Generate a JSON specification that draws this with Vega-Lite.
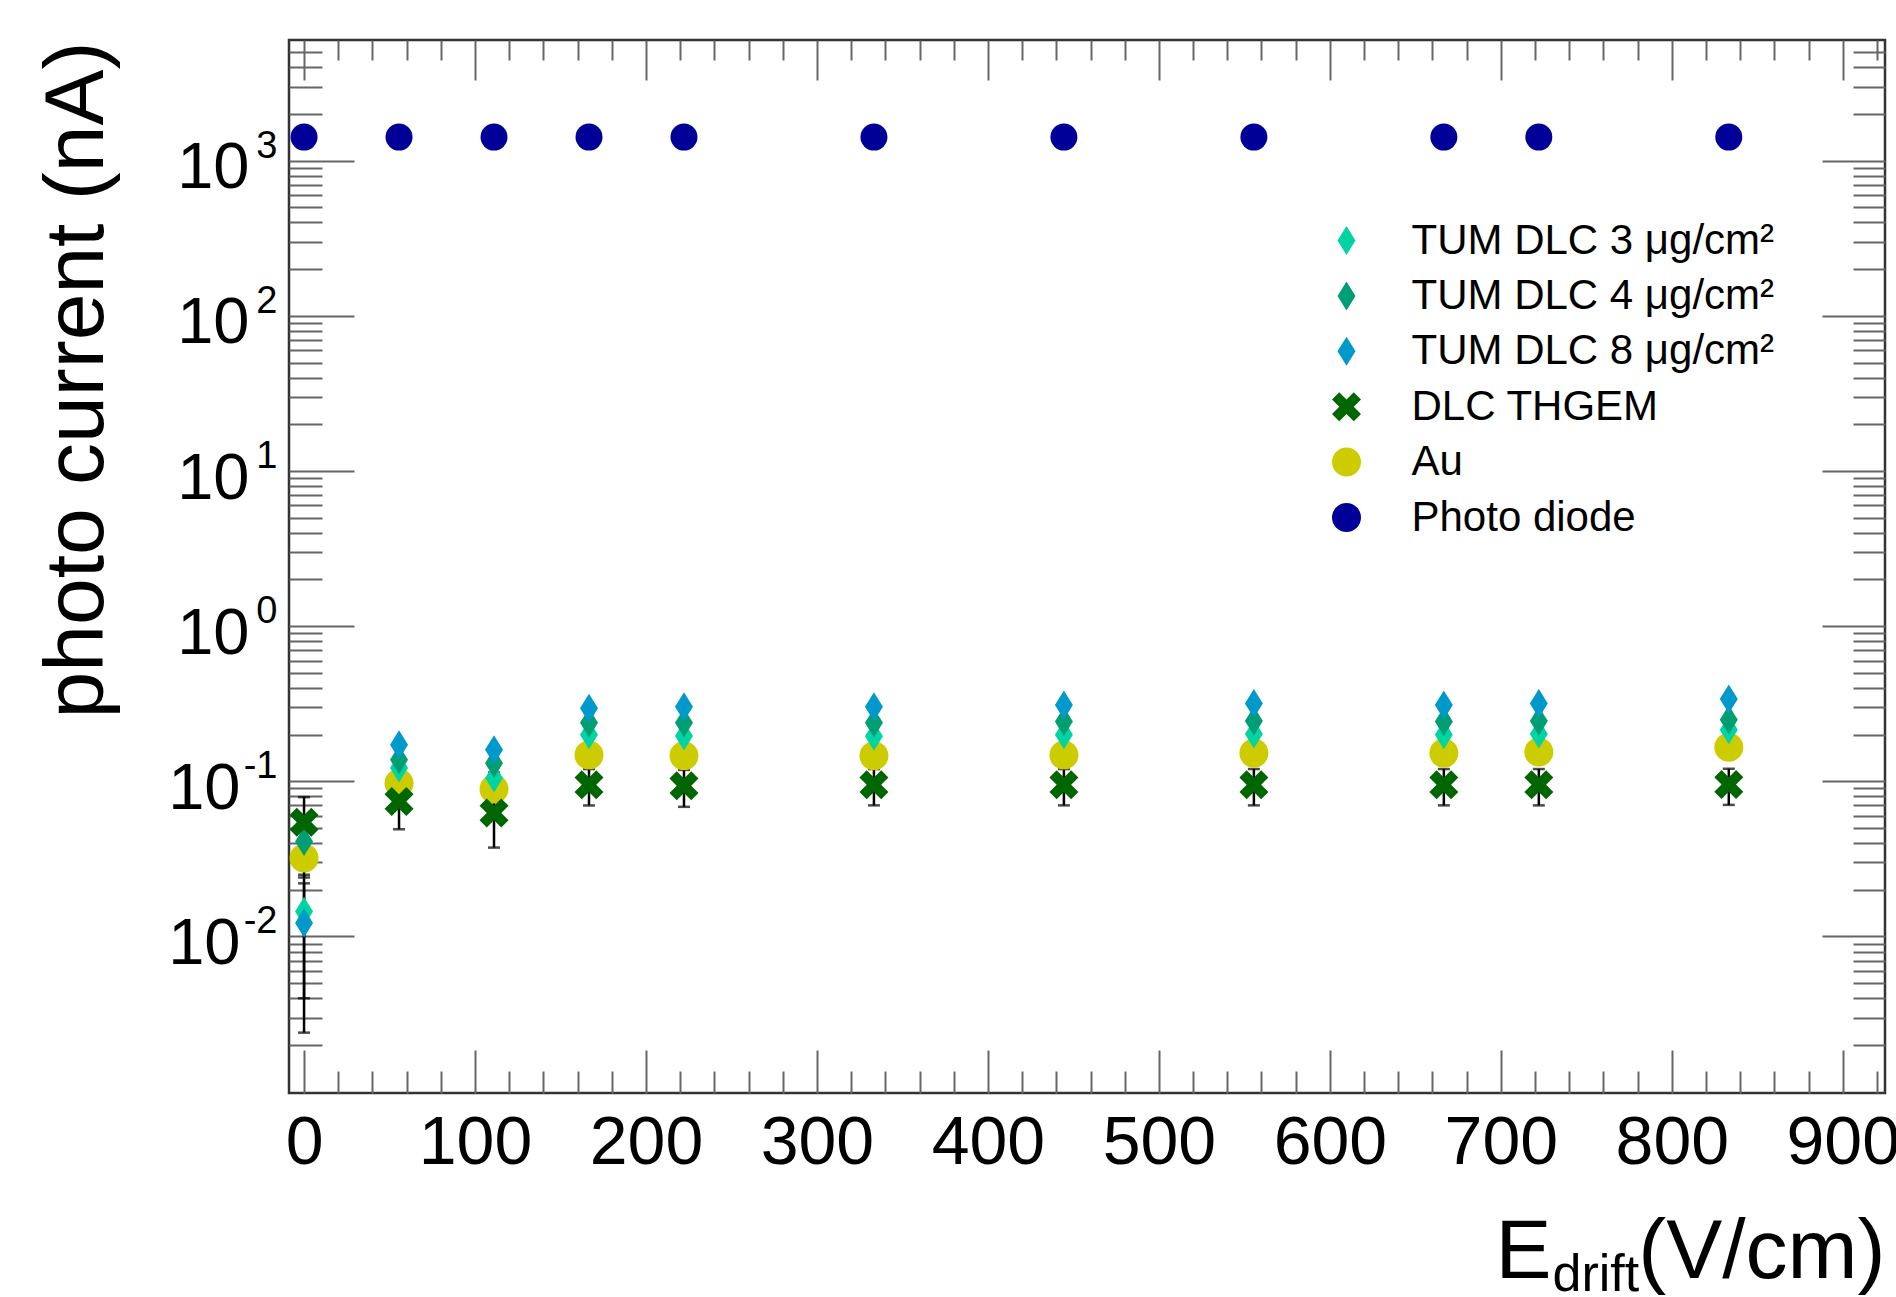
{
  "$schema": "https://vega.github.io/schema/vega-lite/v6.json",
  "width": 1596,
  "height": 1053,
  "autosize": "none",
  "padding": {"left": 289, "top": 40, "right": 11, "bottom": 204},
  "background": "white",
  "config": {
    "view": {"stroke": "#333333", "strokeWidth": 2.5},
    "font": "Liberation Sans",
    "axis": {"domain": false, "grid": false, "labelFont": "Liberation Sans", "titleFont": "Liberation Sans", "labelColor": "black", "titleColor": "black", "tickColor": "#666666", "tickWidth": 2, "labelFlush": false, "labelOverlap": false, "labelBound": false, "titleFontWeight": "normal", "titlePadding": 0}
  },
  "datasets": {
    "pts": [
      {"s": "Au", "x": 0, "y": 0.032, "lo": 0.024, "hi": 0.040},
      {"s": "Au", "x": 55.56, "y": 0.0973, "lo": 0.0723, "hi": 0.1223},
      {"s": "Au", "x": 111.11, "y": 0.0891, "lo": 0.0641, "hi": 0.1141},
      {"s": "Au", "x": 166.67, "y": 0.148},
      {"s": "Au", "x": 222.22, "y": 0.146},
      {"s": "Au", "x": 333.33, "y": 0.146},
      {"s": "Au", "x": 444.44, "y": 0.148},
      {"s": "Au", "x": 555.56, "y": 0.152},
      {"s": "Au", "x": 666.67, "y": 0.152},
      {"s": "Au", "x": 722.22, "y": 0.1545},
      {"s": "Au", "x": 833.33, "y": 0.166},
      {"s": "TUM DLC 3 μg/cm²", "x": 0, "y": 0.0145, "lo": 0.004, "hi": 0.025},
      {"s": "TUM DLC 3 μg/cm²", "x": 55.56, "y": 0.122},
      {"s": "TUM DLC 3 μg/cm²", "x": 111.11, "y": 0.105},
      {"s": "TUM DLC 3 μg/cm²", "x": 166.67, "y": 0.1995},
      {"s": "TUM DLC 3 μg/cm²", "x": 222.22, "y": 0.196},
      {"s": "TUM DLC 3 μg/cm²", "x": 333.33, "y": 0.195},
      {"s": "TUM DLC 3 μg/cm²", "x": 444.44, "y": 0.1995},
      {"s": "TUM DLC 3 μg/cm²", "x": 555.56, "y": 0.202},
      {"s": "TUM DLC 3 μg/cm²", "x": 666.67, "y": 0.2},
      {"s": "TUM DLC 3 μg/cm²", "x": 722.22, "y": 0.202},
      {"s": "TUM DLC 3 μg/cm²", "x": 833.33, "y": 0.215},
      {"s": "TUM DLC 4 μg/cm²", "x": 0, "y": 0.041, "lo": 0.028, "hi": 0.054},
      {"s": "TUM DLC 4 μg/cm²", "x": 55.56, "y": 0.138},
      {"s": "TUM DLC 4 μg/cm²", "x": 111.11, "y": 0.131},
      {"s": "TUM DLC 4 μg/cm²", "x": 166.67, "y": 0.239},
      {"s": "TUM DLC 4 μg/cm²", "x": 222.22, "y": 0.239},
      {"s": "TUM DLC 4 μg/cm²", "x": 333.33, "y": 0.239},
      {"s": "TUM DLC 4 μg/cm²", "x": 444.44, "y": 0.243},
      {"s": "TUM DLC 4 μg/cm²", "x": 555.56, "y": 0.245},
      {"s": "TUM DLC 4 μg/cm²", "x": 666.67, "y": 0.243},
      {"s": "TUM DLC 4 μg/cm²", "x": 722.22, "y": 0.245},
      {"s": "TUM DLC 4 μg/cm²", "x": 833.33, "y": 0.249},
      {"s": "TUM DLC 8 μg/cm²", "x": 0, "y": 0.0122, "lo": 0.0024, "hi": 0.022},
      {"s": "TUM DLC 8 μg/cm²", "x": 55.56, "y": 0.172},
      {"s": "TUM DLC 8 μg/cm²", "x": 111.11, "y": 0.16},
      {"s": "TUM DLC 8 μg/cm²", "x": 166.67, "y": 0.296},
      {"s": "TUM DLC 8 μg/cm²", "x": 222.22, "y": 0.303},
      {"s": "TUM DLC 8 μg/cm²", "x": 333.33, "y": 0.303},
      {"s": "TUM DLC 8 μg/cm²", "x": 444.44, "y": 0.311},
      {"s": "TUM DLC 8 μg/cm²", "x": 555.56, "y": 0.317},
      {"s": "TUM DLC 8 μg/cm²", "x": 666.67, "y": 0.311},
      {"s": "TUM DLC 8 μg/cm²", "x": 722.22, "y": 0.317},
      {"s": "TUM DLC 8 μg/cm²", "x": 833.33, "y": 0.339},
      {"s": "DLC THGEM", "x": 0, "y": 0.0544, "lo": 0.0297, "hi": 0.0791},
      {"s": "DLC THGEM", "x": 55.56, "y": 0.0741, "lo": 0.0491, "hi": 0.0991},
      {"s": "DLC THGEM", "x": 111.11, "y": 0.0624, "lo": 0.0374, "hi": 0.0874},
      {"s": "DLC THGEM", "x": 166.67, "y": 0.0949, "lo": 0.0699, "hi": 0.1199},
      {"s": "DLC THGEM", "x": 222.22, "y": 0.0935, "lo": 0.0685, "hi": 0.1185},
      {"s": "DLC THGEM", "x": 333.33, "y": 0.095, "lo": 0.07, "hi": 0.12},
      {"s": "DLC THGEM", "x": 444.44, "y": 0.095, "lo": 0.07, "hi": 0.12},
      {"s": "DLC THGEM", "x": 555.56, "y": 0.095, "lo": 0.07, "hi": 0.12},
      {"s": "DLC THGEM", "x": 666.67, "y": 0.095, "lo": 0.07, "hi": 0.12},
      {"s": "DLC THGEM", "x": 722.22, "y": 0.095, "lo": 0.07, "hi": 0.12},
      {"s": "DLC THGEM", "x": 833.33, "y": 0.0955, "lo": 0.0705, "hi": 0.1205},
      {"s": "Photo diode", "x": 0, "y": 1420},
      {"s": "Photo diode", "x": 55.56, "y": 1420},
      {"s": "Photo diode", "x": 111.11, "y": 1420},
      {"s": "Photo diode", "x": 166.67, "y": 1420},
      {"s": "Photo diode", "x": 222.22, "y": 1420},
      {"s": "Photo diode", "x": 333.33, "y": 1420},
      {"s": "Photo diode", "x": 444.44, "y": 1420},
      {"s": "Photo diode", "x": 555.56, "y": 1420},
      {"s": "Photo diode", "x": 666.67, "y": 1420},
      {"s": "Photo diode", "x": 722.22, "y": 1420},
      {"s": "Photo diode", "x": 833.33, "y": 1420}
    ]
  },
  "resolve": {"axis": {"x": "independent", "y": "independent"}},
  "layer": [
    {
      "data": {"name": "pts"},
      "transform": [{"filter": "isValid(datum.lo)"}],
      "mark": {"type": "rule", "color": "black", "strokeWidth": 2.5},
      "encoding": {
        "x": {"field": "x", "type": "quantitative", "scale": {"domain": [-8.8, 924.7], "nice": false, "zero": false},
          "axis": {"orient": "bottom", "values": [0, 100, 200, 300, 400, 500, 600, 700, 800, 900], "ticks": false, "labelFontSize": 68, "labelBaseline": "alphabetic", "labelAlign": "center", "labelPadding": 70,
            "title": "E", "titleFontSize": 84, "titleX": 1206, "titleY": 184, "titleAlign": "left", "titleBaseline": "alphabetic", "titleAngle": 0}},
        "y": {"field": "lo", "type": "quantitative", "scale": {"type": "log", "domain": [0.00098, 6000], "nice": false},
          "axis": {"orient": "left", "values": [0.01, 0.1, 1, 10, 100, 1000], "ticks": false, "labelExpr": "'10'", "labelFontSize": 65, "labelAlign": "right", "labelBaseline": "alphabetic", "labelOffset": 27,
            "labelPadding": {"condition": {"test": "datum.value < 0.5", "value": 49}, "value": 40},
            "title": "photo current (nA)", "titleFontSize": 84, "titleAngle": 270, "titleX": -187, "titleY": 1, "titleAlign": "right", "titleBaseline": "alphabetic"}},
        "y2": {"field": "hi"}
      }
    },
    {
      "data": {"name": "pts"},
      "transform": [{"filter": "isValid(datum.lo)"}, {"fold": ["lo", "hi"], "as": ["k", "v"]}],
      "mark": {"type": "tick", "orient": "horizontal", "color": "black", "size": 12, "thickness": 2.5},
      "encoding": {
        "x": {"field": "x", "type": "quantitative", "scale": {"domain": [-8.8, 924.7], "nice": false, "zero": false},
          "axis": {"orient": "bottom", "values": [0, 20, 40, 60, 80, 100, 120, 140, 160, 180, 200, 220, 240, 260, 280, 300, 320, 340, 360, 380, 400, 420, 440, 460, 480, 500, 520, 540, 560, 580, 600, 620, 640, 660, 680, 700, 720, 740, 760, 780, 800, 820, 840, 860, 880, 900, 920],
            "labels": false, "ticks": true, "tickSize": {"condition": {"test": "datum.value % 100 === 0", "value": -43}, "value": -22},
            "title": "drift", "titleFontSize": 52, "titleX": 1263, "titleY": 197, "titleAlign": "left", "titleBaseline": "alphabetic", "titleAngle": 0}},
        "y": {"field": "v", "type": "quantitative", "scale": {"type": "log", "domain": [0.00098, 6000], "nice": false},
          "axis": {"orient": "left", "values": [0.01, 0.1, 1, 10, 100, 1000], "ticks": false, "labelExpr": "'' + round(log(datum.value)/LN10)", "labelFontSize": 38, "labelAlign": "right", "labelBaseline": "alphabetic", "labelOffset": -3.5, "labelPadding": 12, "title": null}}
      }
    },
    {
      "data": {"name": "pts"},
      "transform": [{"filter": "datum.s !== 'Photo diode'"}],
      "mark": {"type": "point", "filled": true, "size": 841, "strokeWidth": 0, "opacity": 1},
      "encoding": {
        "x": {"field": "x", "type": "quantitative", "scale": {"domain": [-8.8, 924.7], "nice": false, "zero": false},
          "axis": {"orient": "top", "values": [0, 20, 40, 60, 80, 100, 120, 140, 160, 180, 200, 220, 240, 260, 280, 300, 320, 340, 360, 380, 400, 420, 440, 460, 480, 500, 520, 540, 560, 580, 600, 620, 640, 660, 680, 700, 720, 740, 760, 780, 800, 820, 840, 860, 880, 900, 920],
            "labels": false, "ticks": true, "tickSize": {"condition": {"test": "datum.value % 100 === 0", "value": -40}, "value": -20},
            "title": "(V/cm)", "titleFontSize": 84, "titleX": 1596, "titleY": 1237, "titleAlign": "right", "titleBaseline": "alphabetic", "titleAngle": 0}},
        "y": {"field": "y", "type": "quantitative", "scale": {"type": "log", "domain": [0.00098, 6000], "nice": false},
          "axis": {"orient": "left", "values": [0.002, 0.003, 0.004, 0.005, 0.006, 0.007, 0.008, 0.009, 0.01, 0.02, 0.03, 0.04, 0.05, 0.06, 0.07, 0.08, 0.09, 0.1, 0.2, 0.3, 0.4, 0.5, 0.6, 0.7, 0.8, 0.9, 1, 2, 3, 4, 5, 6, 7, 8, 9, 10, 20, 30, 40, 50, 60, 70, 80, 90, 100, 200, 300, 400, 500, 600, 700, 800, 900, 1000, 2000, 3000, 4000, 5000],
            "labels": false, "ticks": true, "tickSize": {"condition": {"test": "indexof([0.01, 0.1, 1, 10, 100, 1000], datum.value) >= 0", "value": -65}, "value": -33}, "title": null}},
        "color": {"field": "s", "type": "nominal",
          "scale": {"domain": ["TUM DLC 3 μg/cm²", "TUM DLC 4 μg/cm²", "TUM DLC 8 μg/cm²", "DLC THGEM", "Au", "Photo diode"], "range": ["#00d4a2", "#009e73", "#0099cc", "#006600", "#cccc00", "#000099"]},
          "legend": {"title": null, "orient": "none", "legendX": 1036.5, "legendY": 179.5, "padding": 0, "symbolSize": 841, "symbolStrokeWidth": 0, "labelFontSize": 42, "labelFont": "Liberation Sans", "labelColor": "black", "labelOffset": 44, "rowPadding": 13.4, "labelLimit": 0}},
        "shape": {"field": "s", "type": "nominal",
          "scale": {"domain": ["TUM DLC 3 μg/cm²", "TUM DLC 4 μg/cm²", "TUM DLC 8 μg/cm²", "DLC THGEM", "Au", "Photo diode"], "range": ["M0,-1L0.62,0L0,1L-0.62,0Z", "M0,-1L0.62,0L0,1L-0.62,0Z", "M0,-1L0.62,0L0,1L-0.62,0Z", "M0,-0.5L0.5,-1L1,-0.5L0.5,0L1,0.5L0.5,1L0,0.5L-0.5,1L-1,0.5L-0.5,0L-1,-0.5L-0.5,-1Z", "circle", "circle"]},
          "legend": {"title": null, "orient": "none", "legendX": 1036.5, "legendY": 179.5, "padding": 0, "symbolSize": 841, "symbolStrokeWidth": 0, "labelFontSize": 42, "labelFont": "Liberation Sans", "labelColor": "black", "labelOffset": 44, "rowPadding": 13.4, "labelLimit": 0}}
      }
    },
    {
      "data": {"name": "pts"},
      "transform": [{"filter": "datum.s === 'Photo diode'"}],
      "mark": {"type": "point", "filled": true, "size": 729, "strokeWidth": 0, "opacity": 1},
      "encoding": {
        "x": {"field": "x", "type": "quantitative", "scale": {"domain": [-8.8, 924.7], "nice": false, "zero": false}, "axis": null},
        "y": {"field": "y", "type": "quantitative", "scale": {"type": "log", "domain": [0.00098, 6000], "nice": false},
          "axis": {"orient": "right", "values": [0.002, 0.003, 0.004, 0.005, 0.006, 0.007, 0.008, 0.009, 0.01, 0.02, 0.03, 0.04, 0.05, 0.06, 0.07, 0.08, 0.09, 0.1, 0.2, 0.3, 0.4, 0.5, 0.6, 0.7, 0.8, 0.9, 1, 2, 3, 4, 5, 6, 7, 8, 9, 10, 20, 30, 40, 50, 60, 70, 80, 90, 100, 200, 300, 400, 500, 600, 700, 800, 900, 1000, 2000, 3000, 4000, 5000],
            "labels": false, "ticks": true, "tickSize": {"condition": {"test": "indexof([0.01, 0.1, 1, 10, 100, 1000], datum.value) >= 0", "value": -63}, "value": -32}, "title": null}},
        "color": {"field": "s", "type": "nominal",
          "scale": {"domain": ["TUM DLC 3 μg/cm²", "TUM DLC 4 μg/cm²", "TUM DLC 8 μg/cm²", "DLC THGEM", "Au", "Photo diode"], "range": ["#00d4a2", "#009e73", "#0099cc", "#006600", "#cccc00", "#000099"]},
          "legend": {"title": null, "orient": "none", "legendX": 1036.5, "legendY": 179.5, "padding": 0, "symbolSize": 841, "symbolStrokeWidth": 0, "labelFontSize": 42, "labelFont": "Liberation Sans", "labelColor": "black", "labelOffset": 44, "rowPadding": 13.4, "labelLimit": 0}},
        "shape": {"field": "s", "type": "nominal",
          "scale": {"domain": ["TUM DLC 3 μg/cm²", "TUM DLC 4 μg/cm²", "TUM DLC 8 μg/cm²", "DLC THGEM", "Au", "Photo diode"], "range": ["M0,-1L0.62,0L0,1L-0.62,0Z", "M0,-1L0.62,0L0,1L-0.62,0Z", "M0,-1L0.62,0L0,1L-0.62,0Z", "M0,-0.5L0.5,-1L1,-0.5L0.5,0L1,0.5L0.5,1L0,0.5L-0.5,1L-1,0.5L-0.5,0L-1,-0.5L-0.5,-1Z", "circle", "circle"]},
          "legend": {"title": null, "orient": "none", "legendX": 1036.5, "legendY": 179.5, "padding": 0, "symbolSize": 841, "symbolStrokeWidth": 0, "labelFontSize": 42, "labelFont": "Liberation Sans", "labelColor": "black", "labelOffset": 44, "rowPadding": 13.4, "labelLimit": 0}}
      }
    }
  ]
}
